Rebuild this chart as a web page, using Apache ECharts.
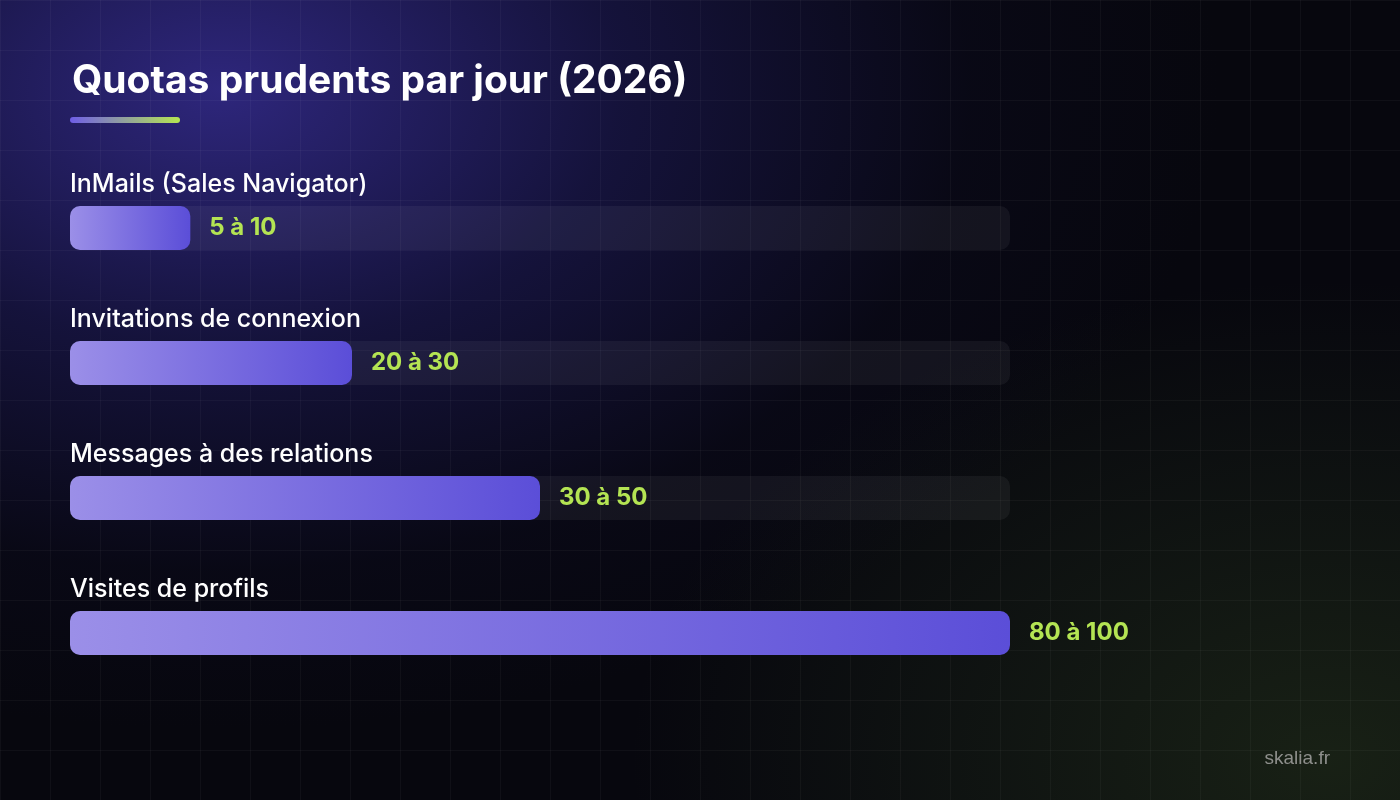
<!DOCTYPE html>
<html lang="fr">
<head>
<meta charset="utf-8">
<title>Quotas prudents par jour (2026)</title>
<script src="https://cdn.jsdelivr.net/npm/echarts@6/dist/echarts.min.js"></script>
<style>
  html, body { margin: 0; padding: 0; }
  body {
    width: 1400px;
    height: 800px;
    overflow: hidden;
    background-color: #07070e;
    background-image:
      linear-gradient(rgba(255, 255, 255, 0.035) 1px, transparent 1px),
      linear-gradient(90deg, rgba(255, 255, 255, 0.035) 1px, transparent 1px),
      radial-gradient(ellipse 1000px 640px at 220px 90px, rgba(48, 40, 130, 0.95), rgba(32, 28, 96, 0.55) 40%, rgba(16, 14, 50, 0.2) 75%, transparent 100%),
      radial-gradient(ellipse 700px 480px at 1330px 760px, rgba(64, 92, 38, 0.3), transparent 100%);
    background-size: 50px 50px, 50px 50px, 100% 100%, 100% 100%;
  }
  #chart { width: 1400px; height: 800px; }
</style>
</head>
<body>
<div id="chart"></div>
<script>
  // quotas (longueur de barre en % du maximum)
  const categories = [
    'InMails (Sales Navigator)',
    'Invitations de connexion',
    'Messages à des relations',
    'Visites de profils'
  ];
  const barValues = [12.8, 30, 50, 100];
  const rangeLabels = ['5 à 10', '20 à 30', '30 à 50', '80 à 100'];
  const trackMax = [100, 100, 100, 100];

  const fontFamily = 'Inter, "Noto Sans", sans-serif';

  const chart = echarts.init(document.getElementById('chart'), null, { renderer: 'canvas' });

  const option = {
    backgroundColor: 'transparent',
    animation: false,
    title: {
      text: 'Quotas prudents par jour (2026)',
      left: 67,
      top: 57,
      textStyle: {
        color: '#ffffff',
        fontSize: 39,
        fontWeight: 700,
        fontFamily: fontFamily
      }
    },
    graphic: [
      {
        type: 'rect',
        left: 70,
        top: 117,
        shape: { width: 110, height: 6, r: 3 },
        style: {
          fill: new echarts.graphic.LinearGradient(0, 0, 1, 0, [
            { offset: 0, color: '#6f5ee6' },
            { offset: 1, color: '#b5e651' }
          ])
        }
      },
      {
        type: 'text',
        right: 70,
        bottom: 32,
        style: {
          text: 'skalia.fr',
          fill: '#8e8f8c',
          fontSize: 19,
          fontFamily: '"Liberation Sans", Arial, sans-serif'
        }
      }
    ],
    grid: {
      left: 70,
      width: 940,
      top: 160.5,
      height: 540
    },
    xAxis: {
      type: 'value',
      min: 0,
      max: 100,
      show: false
    },
    yAxis: {
      type: 'category',
      inverse: true,
      data: categories,
      show: false
    },
    series: [
      {
        name: 'track',
        type: 'bar',
        data: trackMax,
        barWidth: 44,
        silent: true,
        itemStyle: {
          color: 'rgba(255, 255, 255, 0.05)',
          borderRadius: 10
        },
        label: {
          show: true,
          position: [0, -9],
          align: 'left',
          verticalAlign: 'bottom',
          formatter: p => p.name,
          color: '#ffffff',
          fontSize: 25,
          fontWeight: 500,
          fontFamily: fontFamily
        }
      },
      {
        name: 'quota',
        type: 'bar',
        data: barValues,
        barWidth: 44,
        barGap: '-100%',
        itemStyle: {
          borderRadius: 10,
          color: new echarts.graphic.LinearGradient(0, 0, 1, 0, [
            { offset: 0, color: '#9b8fe8' },
            { offset: 1, color: '#5b4ed8' }
          ])
        },
        label: {
          show: true,
          position: 'right',
          distance: 19,
          formatter: p => rangeLabels[p.dataIndex],
          color: '#b4e453',
          fontSize: 24,
          fontWeight: 700,
          fontFamily: fontFamily
        }
      }
    ]
  };

  chart.setOption(option);
</script>
</body>
</html>
